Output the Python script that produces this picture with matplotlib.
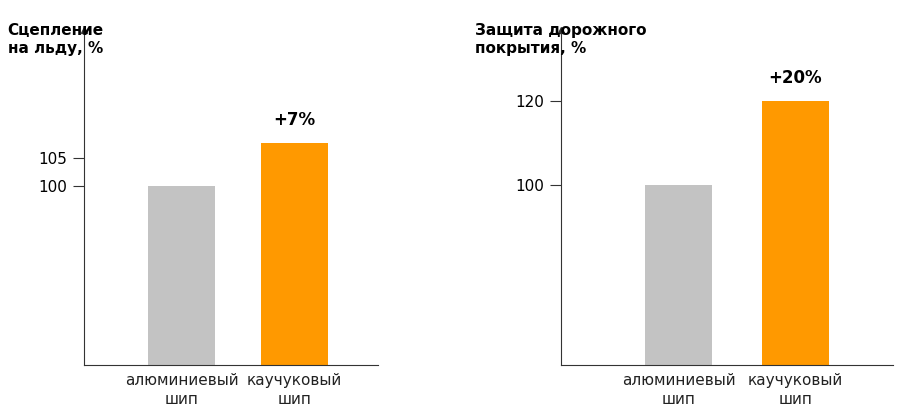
import matplotlib
matplotlib.use("Agg")
import matplotlib.pyplot as plt

plt.rcParams["font.family"] = ["Liberation Sans Narrow", "DejaVu Sans Condensed", "DejaVu Sans"]

categories = ["алюминиевый\nшип", "каучуковый\nшип"]
colors = ["#c3c3c3", "#ff9900"]

grip_values = [100, 107.7]
grip_ticks = [100, 105]
grip_label = "+7%"
grip_title = "Сцепление\nна льду, %"

road_values = [100, 120]
road_ticks = [100, 120]
road_label = "+20%"
road_title = "Защита дорожного\nпокрытия, %"

W, H = 912, 420
fig = plt.figure(figsize=(W / 100, H / 100), dpi=100)


def panel(x0, x1, c0, step, values, ticks, ylim, label, title):
    ax = fig.add_axes([x0 / W, 55 / H, (x1 - x0) / W, 335 / H])
    w = 67 / step
    ax.bar([0, 1], values, width=w, color=colors, bottom=ylim[0])
    # bars drawn from baseline: heights relative to baseline
    for p in ax.patches:
        p.set_height(p.get_height() - ylim[0])
    ax.set_xlim(-c0 / step, (x1 - x0 - c0) / step)
    ax.set_ylim(*ylim)
    for s in ["top", "right"]:
        ax.spines[s].set_visible(False)
    ax.spines["left"].set_color("#333333")
    ax.spines["bottom"].set_color("#333333")
    ax.set_yticks(ticks)
    ax.set_yticklabels([str(t) for t in ticks], fontsize=11)
    ax.tick_params(axis="y", length=8, width=0.8, color="#333333", pad=4)
    ax.set_xticks([0, 1])
    ax.set_xticklabels(categories, fontsize=11, color="#222222", linespacing=1.3)
    ax.tick_params(axis="x", length=0, pad=6)
    ax.plot(0, 1, "^", transform=ax.transAxes, color="#333333", ms=4, clip_on=False)
    ax.annotate(label, (1, values[1]), xytext=(0, 10), textcoords="offset points",
                ha="center", va="bottom", fontsize=12, fontweight="bold")
    ax.text(-0.26, 1.02, title, transform=ax.transAxes, ha="left", va="top",
            fontsize=11, fontweight="bold", linespacing=1.2)
    return ax


panel(84, 378, 97.5, 113, grip_values, grip_ticks, (68, 127.9), grip_label, grip_title)
panel(561, 893, 117.5, 117, road_values, road_ticks, (57, 137), road_label, road_title)

fig.savefig("out.png", dpi=100)
